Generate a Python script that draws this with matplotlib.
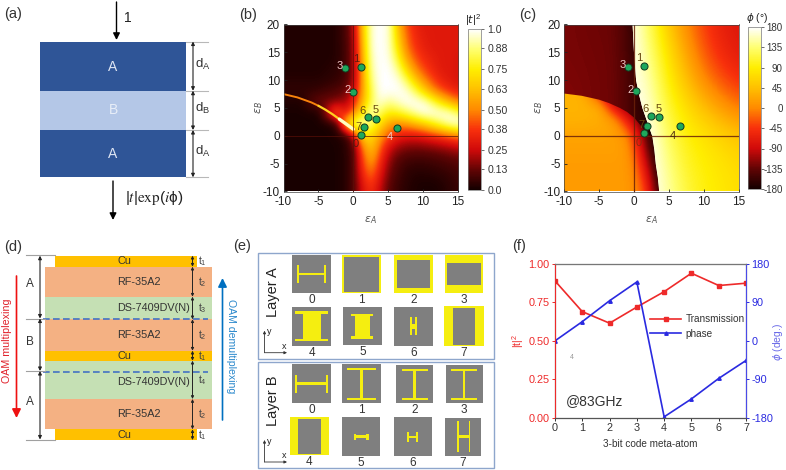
import numpy as np
import matplotlib
matplotlib.use("Agg")
import matplotlib.pyplot as plt
from matplotlib.colors import LinearSegmentedColormap
from matplotlib.patches import Rectangle, Polygon

plt.rcParams['font.family'] = ['Liberation Sans', 'DejaVu Sans']
plt.rcParams['mathtext.default'] = 'regular'
plt.rcParams['axes.unicode_minus'] = False

W, H = 786, 470

# ---- data ----
# panel b : |t|^2 on a grid (rows y=20..-10 step 2, cols x=-10..15 step 1.25)
t2_x = [-10, -8.75, -7.5, -6.25, -5, -3.75, -2.5, -1.25, 0, 1.25, 2.5, 3.75, 5, 6.25, 7.5, 8.75, 10, 11.25, 12.5, 13.75, 15]
t2_y = [20, 18, 16, 14, 12, 10, 8, 6, 4, 2, 0, -2, -4, -6, -8, -10]
t2 = [
    [.02, .02, .02, .02, .02, .02, .03, .08, .22, .65, .97, 1, .97, .62, .42, .33, .30, .30, .30, .30, .30],
    [.02, .02, .02, .02, .02, .02, .03, .08, .21, .63, .97, 1, .97, .66, .45, .35, .31, .30, .30, .30, .30],
    [.02, .02, .02, .02, .02, .02, .03, .07, .20, .60, .97, 1, .97, .72, .48, .37, .32, .30, .30, .30, .30],
    [.02, .02, .02, .02, .02, .02, .03, .07, .20, .58, .95, 1, .98, .80, .55, .42, .35, .32, .30, .30, .28],
    [.02, .02, .02, .02, .02, .03, .04, .07, .20, .55, .93, 1, 1, .90, .68, .50, .40, .34, .30, .30, .28],
    [.03, .03, .03, .03, .03, .04, .05, .08, .20, .55, .90, 1, 1, .98, .85, .65, .50, .40, .33, .30, .28],
    [.05, .05, .05, .05, .06, .08, .10, .13, .25, .55, .85, 1, 1, 1, .97, .85, .68, .52, .42, .36, .32],
    [.02, .02, .02, .10, .14, .15, .17, .20, .32, .60, .85, .97, .90, .95, 1, 1, .97, .85, .70, .58, .48],
    [.01, .01, .01, .01, .02, .25, .50, .30, .50, .75, .95, .85, .75, .78, .85, .93, 1, 1, 1, .97, .85],
    [.01, .01, .01, .01, .01, .01, .05, .60, .95, .95, .85, .70, .55, .50, .52, .58, .65, .75, .85, .95, 1],
    [.01, .01, .01, .01, .01, .01, .02, .04, .25, .70, .70, .55, .42, .33, .30, .30, .32, .36, .40, .45, .50],
    [.01, .01, .01, .01, .01, .01, .01, .03, .12, .50, .65, .45, .28, .20, .17, .16, .17, .18, .20, .22, .25],
    [.01, .01, .01, .01, .01, .01, .01, .03, .10, .42, .58, .38, .20, .12, .09, .08, .08, .09, .10, .12, .13],
    [.01, .01, .01, .01, .01, .01, .01, .03, .10, .38, .50, .32, .16, .09, .05, .04, .04, .05, .06, .07, .09],
    [.01, .01, .01, .01, .01, .01, .01, .03, .10, .32, .42, .27, .13, .07, .04, .02, .02, .02, .03, .05, .07],
    [.01, .01, .01, .01, .01, .01, .01, .03, .10, .28, .36, .23, .11, .06, .03, .02, .01, .01, .02, .04, .06],
]
# the thin bright resonance line in b
ridge_x = [-10, -8, -6, -5, -4, -3, -2, -1, 0]
ridge_y = [7.5, 6.9, 6.0, 5.4, 4.7, 3.9, 3.0, 2.1, 1.2]

# panel c : phase, three regions separated by the jump and the left curve
jump_x = [-0.2, 0.0, 0.3, 0.7, 1.2, 1.9, 2.6, 2.9, 3.1, 3.4, 3.6]
jump_y = [20, 15, 10, 7.5, 5, 2.5, 0, -2.5, -5, -7.5, -10]
curve_x = [-10, -7.5, -5, -3.6, -2, -1, 0, 1, 2]
curve_y = [7.6, 7.2, 6.5, 5.9, 5.0, 4.3, 3.3, 1.8, 0.3]

right_x = [0, 2.5, 5, 7.5, 10, 12.5, 15]
right_y = [20, 15, 10, 5, 0, -5, -10]
phi_right = [
    [175, 120, 50, 0, -40, -65, -75],
    [175, 135, 75, 20, -25, -55, -70],
    [175, 150, 90, 45, 0, -30, -50],
    [178, 160, 110, 75, 45, 15, -10],
    [178, 175, 125, 95, 80, 65, 50],
    [178, 178, 140, 105, 90, 80, 70],
    [178, 178, 150, 115, 95, 85, 75],
]
dark_x = [-10, -7.5, -5, -2.5, 0, 2.5]
dark_y = [20, 12.5, 5, -2.5, -10]
phi_dark = [
    [-125, -128, -130, -132, -165, -178],
    [-125, -126, -128, -130, -160, -178],
    [-120, -124, -128, -130, -155, -178],
    [-120, -124, -128, -130, -155, -178],
    [-120, -124, -128, -130, -155, -178],
]
low_x = [-10, -8.75, -7.5, -6.25, -5, -3.75, -2.5, -1.25, 0, 1.25, 2.5, 3.75]
low_y = [10, 7.5, 5, 2.5, 0, -2.5, -5, -7.5, -10]
phi_low = [
    [35, 35, 30, -50, -100, -120, -130, -140, -150, -165, -175, -178],
    [35, 35, 30, 0, -60, -110, -125, -130, -150, -165, -175, -178],
    [35, 35, 35, 33, 28, -30, -90, -120, -135, -160, -175, -178],
    [32, 32, 32, 30, 28, 25, 5, -50, -100, -150, -172, -178],
    [22, 22, 22, 22, 22, 20, 16, 5, -45, -115, -165, -178],
    [18, 18, 18, 18, 18, 18, 18, 12, -25, -95, -155, -178],
    [15, 15, 15, 15, 15, 15, 15, 12, -8, -70, -135, -175],
    [15, 15, 15, 15, 15, 15, 15, 13, 0, -45, -115, -170],
    [15, 15, 15, 15, 15, 15, 15, 13, 5, -25, -95, -160],
]

# meta atoms in the eps_A / eps_B plane
atoms_b_x = [1.1, 1.1, 0.0, -1.2, 6.3, 3.3, 2.1, 1.6]
atoms_b_y = [0.1, 12.4, 7.9, 12.2, 1.4, 3.1, 3.3, 1.5]
atoms_c_x = [1.4, 1.4, 0.3, -0.8, 6.5, 3.6, 2.4, 1.9]
atoms_c_y = [0.5, 12.6, 8.1, 12.3, 1.7, 3.4, 3.5, 1.8]

# panel f
code = [0, 1, 2, 3, 4, 5, 6, 7]
transmission = [0.89, 0.69, 0.615, 0.72, 0.82, 0.94, 0.86, 0.875]
phase = [0, 45, 94, 138, -178, -136, -88, -46]

t2_ticks = [0.0, 0.13, 0.25, 0.38, 0.50, 0.63, 0.75, 0.88, 1.0]
t2_ticklabels = ['0.0', '0.13', '0.25', '0.38', '0.50', '0.63', '0.75', '0.88', '1.0']
phi_ticks = [-180, -135, -90, -45, 0, 45, 90, 135, 180]

hot = LinearSegmentedColormap.from_list('hot2', [
    (0, '#140000'), (.125, '#620404'), (.25, '#d00a0a'), (.375, '#f8300c'),
    (.5, '#ff8a00'), (.625, '#ffc000'), (.75, '#ffee00'), (.875, '#ffff70'), (1, '#ffffff')])

fig = plt.figure(figsize=(W / 100, H / 100), dpi=100, facecolor='white')


def add_px(x0, y0, x1, y1):
    return fig.add_axes([x0 / W, 1 - y1 / H, (x1 - x0) / W, (y1 - y0) / H])


# one axes in pixels for all the drawn schematics
bg = fig.add_axes([0, 0, 1, 1])
bg.set_xlim(0, W)
bg.set_ylim(H, 0)
bg.axis('off')


def rect(x0, y0, x1, y1, c, **kw):
    bg.add_patch(Rectangle((x0, y0), x1 - x0, y1 - y0, facecolor=c, edgecolor='none', **kw))


def txt(x, y, s, size=8, color='#222222', **kw):
    kw.setdefault('ha', 'center')
    kw.setdefault('va', 'center')
    bg.text(x, y, s, fontsize=size, color=color, **kw)


def arrow(x0, y0, x1, y1, style='-|>', color='black', lw=1.0, ms=7):
    bg.annotate('', xy=(x1, y1), xytext=(x0, y0),
                arrowprops=dict(arrowstyle=style, color=color, lw=lw, mutation_scale=ms,
                                shrinkA=0, shrinkB=0))


for lab, x, y in [('(a)', 13, 14), ('(b)', 248, 15), ('(c)', 528, 15), ('(d)', 13, 247), ('(e)', 242, 246), ('(f)', 519, 246)]:
    txt(x, y, lab, size=10.5, color='#333333')

# ---- (a) ----
rect(40, 41.5, 186, 90.7, '#2f5597')
rect(40, 90.7, 186, 130, '#b4c7e7')
rect(40, 130, 186, 177.3, '#2f5597')
txt(113, 67, 'A', size=10, color='#dfe6f4')
txt(113, 110, 'B', size=10, color='#e8eef8')
txt(113, 153.5, 'A', size=10, color='#dfe6f4')
arrow(116.5, 2, 116.5, 40, ms=10)
txt(128, 18, '1', size=10)
arrow(113, 181, 113, 220, ms=10)
bg.text(125, 198, r'$|\mathit{t}|\mathrm{exp}(\mathit{i}\phi)$', fontsize=11, color='#222222', va='center', math_fontfamily='stix')
for y in [41.5, 90.7, 130, 177.3]:
    bg.plot([186, 208], [y, y], color='#b8b8b8', lw=0.8)
for y0, y1, lab in [(41.5, 90.7, 'A'), (90.7, 130, 'B'), (130, 177.3, 'A')]:
    arrow(193, y0, 193, y1, style='<|-|>', color='#222222', lw=0.8, ms=5)
    txt(202.5, (y0 + y1) / 2 - 2, 'd$_{%s}$' % lab, size=9.5, color='#333333')

# ---- (b) and (c) ----
axb = add_px(283.5, 24.5, 458, 191.5)
dx, dy = 0.625, 1
imb = axb.imshow(t2, cmap=hot, vmin=0, vmax=1, aspect='auto', interpolation='bicubic',
                 extent=[t2_x[0] - dx, t2_x[-1] + dx, t2_y[-1] - dy, t2_y[0] + dy])
axb.plot(ridge_x[:4], ridge_y[:4], color='#f8820c', lw=1.4, solid_capstyle='round')
axb.plot(ridge_x[3:7], ridge_y[3:7], color='#ffd020', lw=1.6, solid_capstyle='round')
axb.plot(ridge_x[6:], ridge_y[6:], color='#ffffc0', lw=2.4, solid_capstyle='round')
axb.plot([-10, 15], [0, 0], color='#5a1008', lw=0.7, alpha=0.7)
axb.plot([0, 0], [-10, 20], color='#5a1008', lw=0.7, alpha=0.7)

axc = add_px(564, 24.5, 739, 191.5)
jump = list(zip(jump_x, jump_y))
curve = list(zip(curve_x, curve_y))
layers = [
    (phi_dark, dark_x, dark_y, [(-10, 20)] + jump + [(-10, -10)]),
    (phi_low, low_x, low_y, curve + jump[6:] + [(-10, -10)]),
    (phi_right, right_x, right_y, jump + [(15, -10), (15, 20)]),
]
for vals, xs, ys, poly in layers:
    hx = (xs[1] - xs[0]) / 2
    hy = (ys[0] - ys[1]) / 2
    im = axc.imshow(vals, cmap=hot, vmin=-180, vmax=180, aspect='auto', interpolation='bicubic',
                    extent=[xs[0] - hx, xs[-1] + hx, ys[-1] - hy, ys[0] + hy])
    clip = Polygon(poly, closed=True, transform=axc.transData)
    im.set_clip_path(clip)
imc = im
axc.plot([-10, 15], [0, 0], color='#6a2008', lw=0.9, alpha=0.85)
axc.plot([0, 0], [-10, 20], color='#6a2008', lw=0.9, alpha=0.85)

for ax in [axb, axc]:
    ax.set_xlim(-10, 15)
    ax.set_ylim(-10, 20)
    ax.set_xticks([-10, -5, 0, 5, 10, 15])
    ax.set_yticks([-10, -5, 0, 5, 10, 15, 20])
    ax.tick_params(labelsize=8.5, length=2, width=0.6, direction='in', colors='#222222')
    ax.tick_params(axis='x', pad=3)
    ax.tick_params(axis='y', pad=2.5)
    ax.set_xlabel(r'$\mathit{\varepsilon_A}$', fontsize=8, color='#555555', labelpad=5)
    ax.set_ylabel(r'$\mathit{\varepsilon_B}$', fontsize=8, color='#555555', labelpad=-1.5)
    for s in ax.spines.values():
        s.set_linewidth(0.5)
        s.set_color('#444444')

axb.scatter(atoms_b_x, atoms_b_y, s=26, c='#1ea85c', edgecolors='#123a20', linewidths=0.7, zorder=5)
axc.scatter(atoms_c_x, atoms_c_y, s=26, c='#1ea85c', edgecolors='#123a20', linewidths=0.7, zorder=5)

labels_b = [('0', 0.4, -1.5, '#5a1a10'), ('1', 0.4, 13.8, '#5a1a10'), ('2', -0.85, 8.2, '#f0c8c8'), ('3', -1.95, 12.6, '#f0c8c8'),
            ('4', 5.3, -0.2, '#f0c8c8'), ('5', 3.2, 4.6, '#6a4a10'), ('6', 1.3, 4.5, '#6a4a10'), ('7', 0.7, 1.6, '#6a4a10')]
labels_c = [('0', 0.6, -1.3, '#8a2a10'), ('1', 0.7, 13.9, '#6a4a10'), ('2', -0.5, 8.3, '#f0c8c8'), ('3', -1.6, 12.8, '#f0c8c8'),
            ('4', 5.6, 0.0, '#4a2a10'), ('5', 3.5, 4.9, '#6a4a10'), ('6', 1.6, 4.8, '#6a4a10'), ('7', 1.1, 2.0, '#6a4a10')]
for ax, labs in [(axb, labels_b), (axc, labels_c)]:
    for s, x, y, c in labs:
        ax.text(x, y, s, fontsize=8, color=c, ha='center', va='center', zorder=6)

cb1 = fig.colorbar(imb, cax=add_px(468, 29, 481, 190))
cb1.set_ticks(t2_ticks, labels=t2_ticklabels)
cb2 = fig.colorbar(imc, cax=add_px(748, 27, 761, 189))
cb2.set_ticks(phi_ticks)
cb1.ax.tick_params(labelsize=7.6, length=2, width=0.5, pad=2.5, colors='#333333')
# right aligned labels on the phase bar, so -135 stays inside the picture
cb2.ax.tick_params(labelsize=7, length=2, width=0.5, pad=13.5, colors='#333333')
for lb in cb2.ax.get_yticklabels():
    lb.set_ha('right')
for cb in [cb1, cb2]:
    cb.outline.set_linewidth(0.5)
    cb.outline.set_edgecolor('#777777')
txt(473, 20, r'$|\mathit{t}|^2$', size=8)
txt(757, 18, r'$\mathit{\phi}$ ($\degree$)', size=7.5)

# ---- (d) ----
layers_d = [(55, 197, 255.7, 266.7, '#ffc000', 'Cu'), (45, 211.7, 266.7, 296.7, '#f4b183', 'RF-35A2'),
            (45, 211.7, 296.7, 319.3, '#c5e0b4', 'DS-7409DV(N)'), (45, 211.7, 319.3, 350.7, '#f4b183', 'RF-35A2'),
            (45, 211.7, 350.7, 360.7, '#ffc000', 'Cu'), (45, 211.7, 360.7, 399, '#c5e0b4', 'DS-7409DV(N)'),
            (45, 211.7, 399, 429.3, '#f4b183', 'RF-35A2'), (55, 197, 429.3, 440, '#ffc000', 'Cu')]
t_names = ['t$_1$', 't$_2$', 't$_3$', 't$_2$', 't$_1$', 't$_4$', 't$_2$', 't$_1$']
for (x0, x1, y0, y1, c, name), tn in zip(layers_d, t_names):
    rect(x0, y0, x1, y1, c)
    # the lower green block holds its label under the dashed line
    yt = (y0 + y1) / 2 + (2 if name.startswith('DS') and y1 > 380 else 0)
    txt(117, yt, name, size=7.8, color='#333333', ha='left')
    arrow(192.5, y0, 192.5, y1, style='<|-|>', color='#222222', lw=0.7, ms=4)
    txt(202, (y0 + y1) / 2, tn, size=7.5, color='#444444')
for y in [319.3, 371.5]:
    bg.plot([43, 208], [y, y], color='#4472c4', lw=1.2, ls=(0, (4, 2)))
for y, x1 in [(255, 55), (318.5, 45), (371, 45), (439.5, 55)]:
    bg.plot([26, x1], [y, y], color='#a0a0a0', lw=0.8)
for y0, y1, lab in [(255.7, 318.5, 'A'), (318.5, 371, 'B'), (371, 439.5, 'A')]:
    arrow(40, y0, 40, y1, style='<|-|>', color='#222222', lw=0.8, ms=5)
    txt(30, (y0 + y1) / 2 - 3, lab, size=8.5, color='#333333')
arrow(16.5, 276, 16.5, 418, color='#ee1111', lw=1.2, ms=13)
txt(6.7, 341, 'OAM multiplexing', size=7.7, color='#e0202a', rotation=90)
arrow(222.5, 420, 222.5, 278, color='#0070c0', lw=1.2, ms=13)
txt(231, 346, 'OAM demultiplexing', size=7.6, color='#2a88cc', rotation=270)

# ---- (e) ----
GY = '#7f7f7f'
YL = '#f5ee10'


def ibeam(w0, w1, b, s0, s1):
    # vertical I : bars y=.1 .. , stem s0-s1
    return [(w0, .10, w1, .10 + b), (w0, .87, w1, .87 + b), (s0, .10, s1, .92)]


def hbeam(b0, b1, y0, y1, t):
    return [(b0, y0, b0 + t, y1), (b1 - t, y0, b1, y1), (b0, .47, b1, .53)]


# cells in zoomed picture coordinates: x0, y0, x1, y1, label, background, yellow rects or gray inner
cells = [
    (172, 75, 288, 190, '0', GY, hbeam(.13, .87, .26, .74, .05), None),
    (322, 75, 437, 190, '1', YL, [], (.04, .04, .96, .96)),
    (478, 75, 593, 190, '2', YL, [], (.06, .13, .94, .87)),
    (630, 75, 745, 190, '3', YL, [], (.05, .2, .95, .78)),
    (172, 232, 288, 348, '4', GY, [(.07, .1, .92, .17), (.07, .81, .92, .88), (.28, .1, .74, .88)], None),
    (325, 230, 441, 346, '5', GY, [(.2, .18, .78, .24), (.2, .77, .78, .83), (.3, .18, .68, .83)], None),
    (478, 231, 593, 347, '6', GY, [(.42, .27, .47, .73), (.55, .27, .6, .73), (.42, .43, .6, .57)], None),
    (628, 228, 746, 348, '7', YL, [], (.23, .05, .77, .98)),
    (172, 403, 287, 518, '0', GY, hbeam(.07, .92, .28, .75, .05), None),
    (322, 403, 437, 518, '1', GY, ibeam(.13, .87, .05, .46, .54), None),
    (484, 406, 595, 518, '2', GY, ibeam(.15, .85, .05, .46, .53), None),
    (632, 406, 743, 518, '3', GY, ibeam(.15, .85, .05, .46, .53), None),
    (166, 560, 281, 676, '4', YL, [], (.2, .05, .8, .96)),
    (321, 562, 436, 677, '5', GY, [(.3, .43, .37, .58), (.63, .43, .7, .58), (.33, .47, .67, .55)], None),
    (477, 562, 592, 677, '6', GY, [(.35, .37, .4, .65), (.57, .37, .62, .65), (.35, .48, .62, .54)], None),
    (629, 564, 739, 677, '7', GY, [(.33, .08, .38, .9), (.65, .08, .7, .9), (.33, .45, .7, .52)], None),
]
for x0, y0, x1, y1, lab, back, yellow, inner in cells:
    px0, py0, px1, py1 = 235 + x0 / 3, 230 + y0 / 3, 235 + x1 / 3, 230 + y1 / 3
    w, h = px1 - px0, py1 - py0
    rect(px0, py0, px1, py1, back)
    if inner:
        rect(px0 + inner[0] * w, py0 + inner[1] * h, px0 + inner[2] * w, py0 + inner[3] * h, GY)
    for a, b, c, d in yellow:
        rect(px0 + a * w, py0 + b * h, px0 + c * w, py0 + d * h, YL)
    txt((px0 + px1) / 2, py1 + 7, lab, size=8.5, color='#333333')
for y0, y1, name in [(252.7, 359.3, 'Layer A'), (362, 468, 'Layer B')]:
    bg.add_patch(Rectangle((257.7, y0), 236.6, y1 - y0, fill=False, edgecolor='#8ea6cc', lw=1.0))
    txt(273, y0 + 39, name, size=10.5, color='#222222', rotation=90)
    arrow(264.5, y0 + 100, 264.5, y0 + 78, color='#333333', lw=0.6, ms=4)
    arrow(264.5, y0 + 100, 287, y0 + 100, color='#333333', lw=0.6, ms=4)
    txt(269, y0 + 79, 'y', size=6.5)
    txt(284, y0 + 94, 'x', size=6.5)

# ---- (f) ----
axf = add_px(555, 264, 746, 417.7)
red, blue = '#ee2a2a', '#2a2ae0'
l1, = axf.plot(code, transmission, color=red, lw=1.2, marker='s', ms=2.5, label='Transmission')
axf.set_xlim(0, 7)
axf.set_ylim(0, 1)
axf.set_xticks(code)
axf.set_yticks([0, .25, .5, .75, 1])
axf.set_yticklabels(['0.00', '0.25', '0.50', '0.75', '1.00'])
axf.tick_params(axis='y', labelsize=7.8, colors=red, length=2.5, width=0.7, direction='out', pad=1.5)
axf.tick_params(axis='x', labelsize=7.8, colors='#333333', length=2.5, width=0.7, direction='out', pad=1.5)
axf.set_xlabel('3-bit code meta-atom', fontsize=7.2, color='#333333', labelpad=4)
axf.set_ylabel(r'$|t|^2$', fontsize=7.5, color=red, labelpad=2)
ax2 = axf.twinx()
l2, = ax2.plot(code, phase, color=blue, lw=1.2, marker='^', ms=2.5, label='phase')
ax2.set_ylim(-180, 180)
ax2.set_yticks([-180, -90, 0, 90, 180])
ax2.tick_params(axis='y', labelsize=7.8, colors=blue, length=2.5, width=0.7, direction='out', pad=1.5)
txt(778, 342, r'$\mathit{\phi}$ (deg.)', size=7.5, color='#6a6ae8', rotation=90)
ax2.spines['left'].set_color(red)
ax2.spines['right'].set_color('#4a4ae8')
ax2.spines['bottom'].set_color('#555555')
ax2.spines['top'].set_color('#777777')
ax2.legend(handles=[l1, l2], loc='center', bbox_to_anchor=(0.746, 0.593), frameon=False, fontsize=7.2,
           handlelength=3.1, labelspacing=0.45, handletextpad=0.4, borderpad=0, labelcolor='#333333')
axf.text(0.4, 0.11, '@83GHz', fontsize=10, color='#333333', va='center')
axf.text(0.6, 0.39, '4', fontsize=5, color='#999999', ha='center', va='center')

fig.savefig('out.png', dpi=100)
